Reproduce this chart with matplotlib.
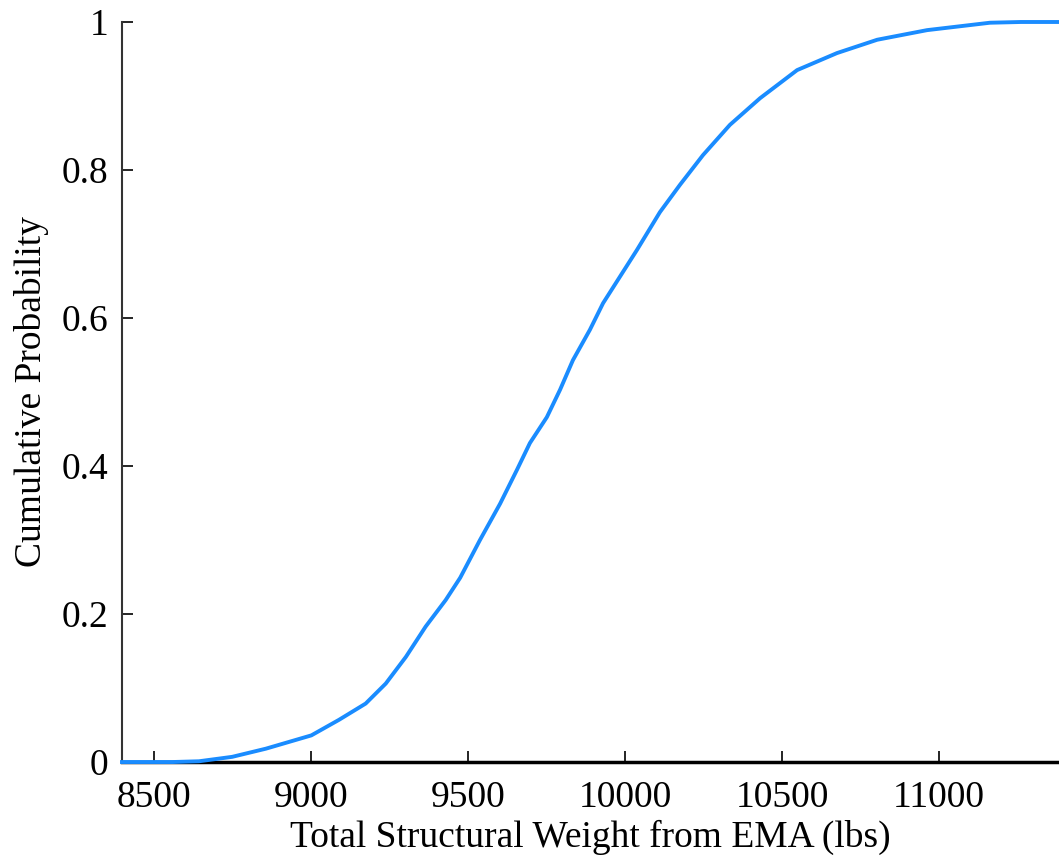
import matplotlib.pyplot as plt

plt.rcParams['font.family'] = ['Liberation Serif', 'DejaVu Serif']

# values
weight = [8398, 8560, 8643, 8749, 8856, 9001, 9089, 9174, 9238, 9302, 9365,
          9429, 9475, 9538, 9602, 9656, 9697, 9751, 9793, 9834, 9888, 9930,
          9984, 10038, 10111, 10175, 10248, 10334, 10430, 10548, 10675, 10803,
          10962, 11162, 11260, 11382]
prob = [0.0, 0.0, 0.001, 0.007, 0.018, 0.036, 0.057, 0.079, 0.106, 0.142, 0.183,
        0.219, 0.249, 0.300, 0.349, 0.395, 0.431, 0.466, 0.503, 0.543, 0.584, 0.620,
        0.656, 0.692, 0.743, 0.780, 0.820, 0.861, 0.897, 0.935, 0.958, 0.976,
        0.989, 0.999, 1.0, 1.0]

xticks = [8500, 9000, 9500, 10000, 10500, 11000]
yticks = [0, 0.2, 0.4, 0.6, 0.8, 1]
yticklabels = ['0', '0.2', '0.4', '0.6', '0.8', '1']

fig = plt.figure(figsize=(10.59, 8.59), dpi=100)
ax = fig.add_axes([0.1152, 0.1129, 0.8848, 0.8615])

ax.plot(weight, prob, color='#1a8cff', linewidth=2.8, clip_on=False, zorder=3)

ax.set_xlim(8398, 11382)
ax.set_ylim(0, 1)
ax.set_xticks(xticks)
ax.set_yticks(yticks)
ax.set_yticklabels(yticklabels)

ax.spines['top'].set_visible(False)
ax.spines['right'].set_visible(False)
ax.spines['left'].set_linewidth(1.5)
ax.spines['bottom'].set_linewidth(2.5)
ax.spines['left'].set_color('#333333')

ax.tick_params(direction='in', length=8, width=1.2, labelsize=27)
ax.tick_params(axis='y', pad=10)
ax.tick_params(axis='x', pad=13)

ax.set_xlabel('Total Structural Weight from EMA (lbs)', fontsize=27, labelpad=4)
ax.set_ylabel('Cumulative Probability', fontsize=27, labelpad=9)

fig.savefig('out.png', dpi=100)
